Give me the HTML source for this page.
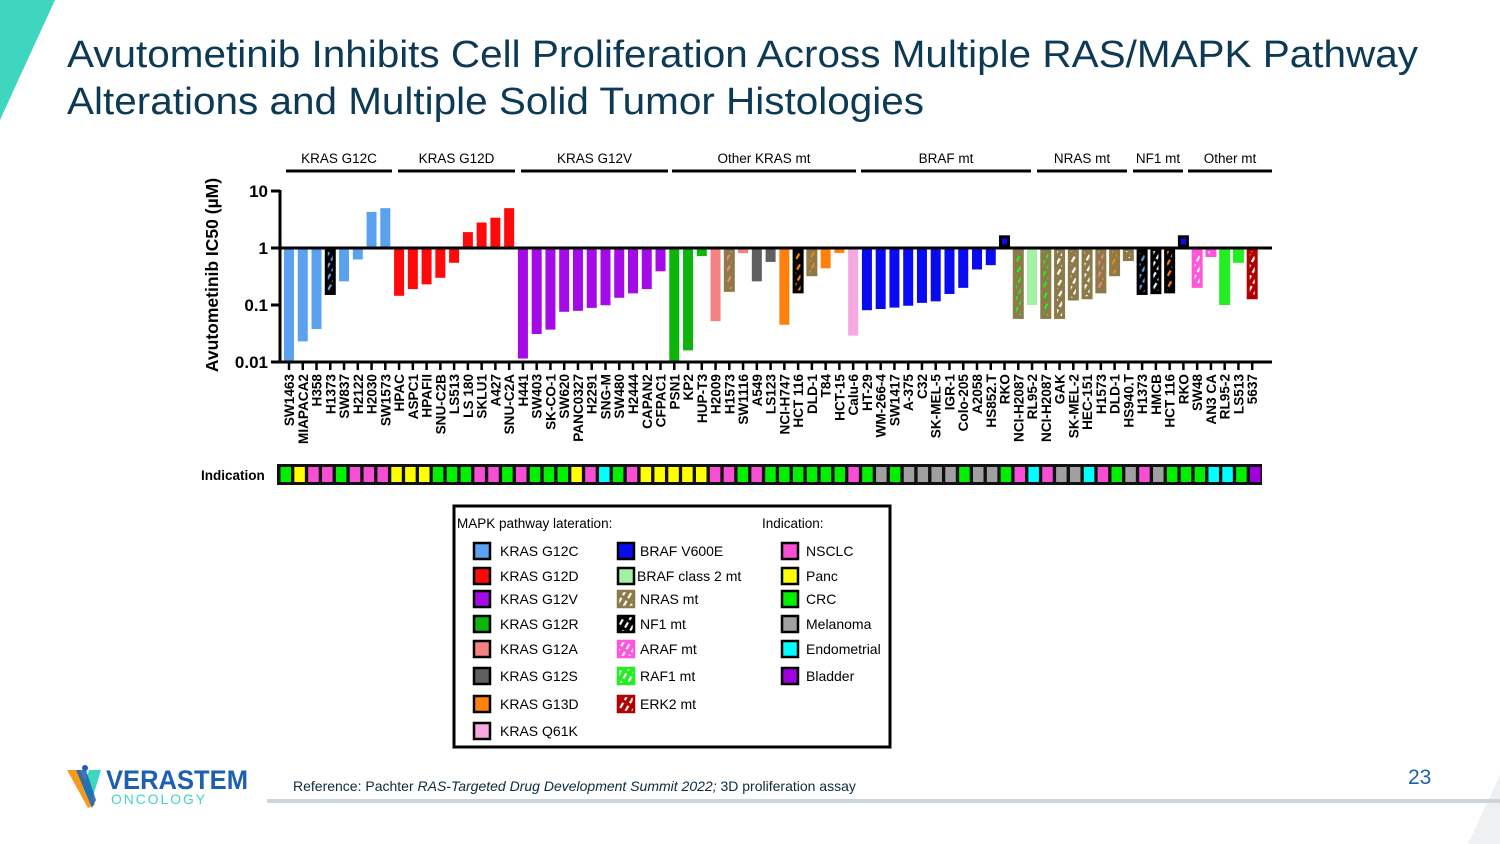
<!DOCTYPE html>
<html><head><meta charset="utf-8"><style>
html,body{margin:0;padding:0;background:#fff;}
svg{display:block;font-family:"Liberation Sans",sans-serif;}
</style></head><body>
<svg id="s" width="1500" height="844" viewBox="0 0 1500 844" xmlns="http://www.w3.org/2000/svg">
<defs id="defs"></defs>
<polygon points="0,0 55,0 0,120" fill="#3fd6bf"/>
<polygon points="1500,775 1500,844 1468,844" fill="#eef0f2"/>
<text x="67" y="67" font-size="38" fill="#0c3a55" textLength="1351" lengthAdjust="spacingAndGlyphs">Avutometinib Inhibits Cell Proliferation Across Multiple RAS/MAPK Pathway</text>
<text x="67" y="114" font-size="38" fill="#0c3a55" textLength="857" lengthAdjust="spacingAndGlyphs">Alterations and Multiple Solid Tumor Histologies</text>
<g id="chart"></g>
<g id="legend">
<rect x="454" y="506" width="436" height="241" fill="#fff" stroke="#000" stroke-width="3"/>
<text x="457" y="528" font-size="13.5">MAPK pathway lateration:</text>
<text x="762" y="528" font-size="13.5">Indication:</text>
</g>
<rect x="267" y="799" width="1233" height="4" fill="#cdd5da"/>
<g>
<polygon points="67,770 80,770 95,805 88,808" fill="#f79a1e"/>
<polygon points="101,770 89,770 83,790 92,800" fill="#3fd6bf"/>
<polygon points="76,770 86,770 96,800 92,808" fill="#1d5fb0" opacity="0.85"/>
<circle cx="85" cy="768" r="3" fill="#1d5fb0"/>
<text x="106" y="789" font-size="27" font-weight="bold" fill="#1d5fb0" textLength="142" lengthAdjust="spacingAndGlyphs">VERASTEM</text>
<text x="111" y="804" font-size="14" fill="#3fd6bf" textLength="96" lengthAdjust="spacingAndGlyphs" letter-spacing="2">ONCOLOGY</text>
</g>
<text x="293" y="791" font-size="14" fill="#0c2a3f">Reference: Pachter <tspan font-style="italic">RAS-Targeted Drug Development Summit 2022;</tspan> 3D proliferation assay</text>
<text x="1408" y="784" font-size="21" fill="#1d5fb0">23</text>
</svg>
<script>
const NS="http://www.w3.org/2000/svg";
const cellLines=["SW1463","MIAPACA2","H358","H1373","SW837","H2122","H2030","SW1573","HPAC","ASPC1","HPAFII","SNU-C2B","LS513","LS 180","SKLU1","A427","SNU-C2A","H441","SW403","SK-CO-1","SW620","PANC0327","H2291","SNG-M","SW480","H2444","CAPAN2","CFPAC1","PSN1","KP2","HUP-T3","H2009","H1573","SW1116","A549","LS123","NCI-H747","HCT 116","DLD-1","T84","HCT-15","Calu-6","HT-29","WM-266-4","SW1417","A-375","C32","SK-MEL-5","IGR-1","Colo-205","A2058","HS852.T","RKO","NCI-H2087","RL95-2","NCI-H2087","GAK","SK-MEL-2","HEC-151","H1573","DLD-1","HS940.T","H1373","HMCB","HCT 116","RKO","SW48","AN3 CA","RL95-2","LS513","5637"];
const ic50=[0.01,0.023,0.038,0.15,0.26,0.63,4.3,5.0,0.145,0.19,0.23,0.30,0.55,1.9,2.8,3.4,5.0,0.0115,0.031,0.037,0.076,0.079,0.089,0.099,0.134,0.16,0.19,0.39,0.01,0.016,0.72,0.052,0.17,0.81,0.26,0.57,0.045,0.16,0.32,0.44,0.82,0.029,0.081,0.085,0.09,0.097,0.109,0.116,0.156,0.2,0.42,0.5,1.45,0.057,0.1,0.057,0.057,0.12,0.126,0.16,0.32,0.59,0.15,0.155,0.16,1.45,0.2,0.7,0.1,0.55,0.126];
const fillKey=["g12c","g12c","g12c","g12c","g12c","g12c","g12c","g12c","g12d","g12d","g12d","g12d","g12d","g12d","g12d","g12d","g12d","g12v","g12v","g12v","g12v","g12v","g12v","g12v","g12v","g12v","g12v","g12v","g12r","g12r","g12r","g12a","g12a","g12a","g12s","g12s","g13d","g13d","g13d","g13d","g13d","q61k","v600e","v600e","v600e","v600e","v600e","v600e","v600e","v600e","v600e","v600e","v600e","raf1","cls2","raf1","white","white","white","g12a","g13d","white","g12c","white","g13d","v600e","white","white","raf1","raf1","white"];
const hatchKey=["","","","nf1","","","","","","","","","","","","","","","","","","","","","","","","","","","","","nras","","","","","nf1","nras","","","","","","","","","","","","","","nf1","nras","","nras","nras","nras","nras","nras","nras","nras","nf1","nf1","nf1","nf1","araf","araf","raf1","raf1","erk2"];
const indication=["crc","panc","nsclc","nsclc","crc","nsclc","nsclc","nsclc","panc","panc","panc","crc","crc","crc","nsclc","nsclc","crc","nsclc","crc","crc","crc","panc","nsclc","endo","crc","nsclc","panc","panc","panc","panc","panc","nsclc","nsclc","crc","nsclc","crc","crc","crc","crc","crc","crc","nsclc","crc","mel","crc","mel","mel","mel","mel","crc","mel","mel","crc","nsclc","endo","nsclc","mel","mel","endo","nsclc","crc","mel","nsclc","mel","crc","crc","crc","endo","endo","crc","blad"];
const groups=["KRAS G12C","KRAS G12D","KRAS G12V","Other KRAS mt","BRAF mt","NRAS mt","NF1 mt","Other mt"];
const yTicks=[10,1,0.1,0.01];
const yTickLabels=["10","1","0.1","0.01"];
const bracketX1=[286,398,521,672,861,1037,1133,1188];
const bracketX2=[392,515,668,856,1031,1127,1183,1272];
const COL={g12c:"#5aa2f0",g12d:"#ff0a0a",g12v:"#a30ae6",g12r:"#0cb40c",g12a:"#f58282",g12s:"#5f5f5f",g13d:"#ff800a",q61k:"#f5a9e0",v600e:"#0a0af0",cls2:"#a3f2a3",nras:"#8c7b48",nf1:"#000000",araf:"#ff55dd",raf1:"#22ee22",erk2:"#b00000",white:"#ffffff"};
const IND={nsclc:"#f74fd4",panc:"#ffff00",crc:"#00f000",mel:"#a0a0a0",endo:"#00ffff",blad:"#a000e0"};

const x0=289, dx=13.76;
function xs(i){return x0+i*dx;}
function ys(v){return 248-Math.log10(v)*57;}
const chart=document.getElementById('chart'), defs=document.getElementById('defs');
function el(tag,attrs,parent){const e=document.createElementNS(NS,tag);for(const k in attrs)e.setAttribute(k,attrs[k]);(parent||chart).appendChild(e);return e;}
const pats={};
function pattern(bg,fg){const id="p"+bg.slice(1)+fg.slice(1);if(!pats[id]){const p=el('pattern',{id:id,width:6,height:9,patternUnits:'userSpaceOnUse',patternTransform:'rotate(30)'},defs);el('rect',{x:0,y:0,width:6,height:9,fill:bg},p);el('rect',{x:2,y:0,width:2.2,height:6,fill:fg},p);pats[id]=1;}return "url(#"+id+")";}

groups.forEach((g,k)=>{
  const a=bracketX1[k], b=bracketX2[k];
  const l=el('line',{x1:a,x2:b,y1:171,y2:171,stroke:'#000','stroke-width':3});
  
  
  const t=el('text',{x:(a+b)/2,y:163,'font-size':13.5,'text-anchor':'middle'});
  t.textContent=g;
  
  
});
el('line',{x1:280,x2:280,y1:190,y2:363,stroke:'#000','stroke-width':3});
yTicks.forEach((v,k)=>{
  el('line',{x1:271,x2:280,y1:ys(v),y2:ys(v),stroke:'#000','stroke-width':3});
  const t=el('text',{x:268,y:ys(v)+6,'font-size':17,'font-weight':'bold','text-anchor':'end'});
  t.textContent=yTickLabels[k];
  
  
});
const yt=el('text',{x:0,y:0,'font-size':17.5,'font-weight':'bold','text-anchor':'middle',transform:'translate(218,275) rotate(-90)'});
yt.textContent="Avutometinib IC50 (\u00b5M)";



ic50.forEach((v,i)=>{
  const x=xs(i), y1=ys(1), y2=ys(v);
  const top=Math.min(y1,y2), h=Math.max(Math.abs(y2-y1),3);
  const hk=hatchKey[i];
  let r;
  if(hk){
    const oc=COL[hk], fc=COL[fillKey[i]];
    r=el('rect',{x:x-4,y:top+1.5,width:8,height:Math.max(h-3,6),fill:pattern(oc,fc),stroke:oc,'stroke-width':3});
    if(v>1){r.setAttribute('y',top-2);r.setAttribute('height',Math.max(h,8));r.setAttribute('fill',fc);}
  } else {
    r=el('rect',{x:x-5,y:top,width:10,height:h,fill:COL[fillKey[i]]});
    if(v>1&&fillKey[i]=="v600e"){r.setAttribute('stroke','#000');r.setAttribute('stroke-width',2);}
  }
  
  
  el('line',{x1:x,x2:x,y1:362,y2:370,stroke:'#000','stroke-width':2.5});
  const t=el('text',{x:0,y:0,'font-size':13.6,'font-weight':'bold','text-anchor':'end',transform:'translate('+(x+5)+',374) rotate(-90)'});
  t.textContent=cellLines[i];
  
  
});
el('line',{x1:280,x2:1272,y1:248,y2:248,stroke:'#000','stroke-width':3});
el('line',{x1:279,x2:1272,y1:362,y2:362,stroke:'#000','stroke-width':3});

const il=el('text',{x:201,y:480,'font-size':13.5,'font-weight':'bold'});
il.textContent="Indication";


el('rect',{x:277,y:464,width:985,height:21,fill:'#111'});
indication.forEach((c,i)=>{
  const r=el('rect',{x:280.5+i*13.85,y:467,width:10.5,height:15,fill:IND[c]});
  
  
});

const lg=document.getElementById('legend');
const col1=[["KRAS G12C","g12c"],["KRAS G12D","g12d"],["KRAS G12V","g12v"],["KRAS G12R","g12r"],["KRAS G12A","g12a"],["KRAS G12S","g12s"],["KRAS G13D","g13d"],["KRAS Q61K","q61k"]];
const col2=[["BRAF V600E","v600e",0],["BRAF class 2 mt","cls2",0],["NRAS mt","nras",1],["NF1 mt","nf1",1],["ARAF mt","araf",1],["RAF1 mt","raf1",1],["ERK2 mt","erk2",1]];
const col3=[["NSCLC","nsclc"],["Panc","panc"],["CRC","crc"],["Melanoma","mel"],["Endometrial","endo"],["Bladder","blad"]];
const rowsY=[551,576,599,624,649,676,704,731];
function sw(x,y,fill,stroke){return el('rect',{x:x,y:y-8,width:16,height:16,fill:fill,stroke:stroke,'stroke-width':2.5},lg);}
function lt(x,y,s){const t=el('text',{x:x,y:y+5,'font-size':14},lg);t.textContent=s;}
col1.forEach((c,k)=>{sw(474,rowsY[k],COL[c[1]],'#000');lt(500,rowsY[k],c[0]);});
col2.forEach((c,k)=>{const f=c[2]?pattern(COL[c[1]],'#ffffff'):COL[c[1]];sw(618,rowsY[k],f,c[2]?COL[c[1]]:'#000');lt(k==1?637:640,rowsY[k],c[0]);});
col3.forEach((c,k)=>{sw(782,rowsY[k],IND[c[1]],'#000');lt(806,rowsY[k],c[0]);});
</script>
</body></html>
